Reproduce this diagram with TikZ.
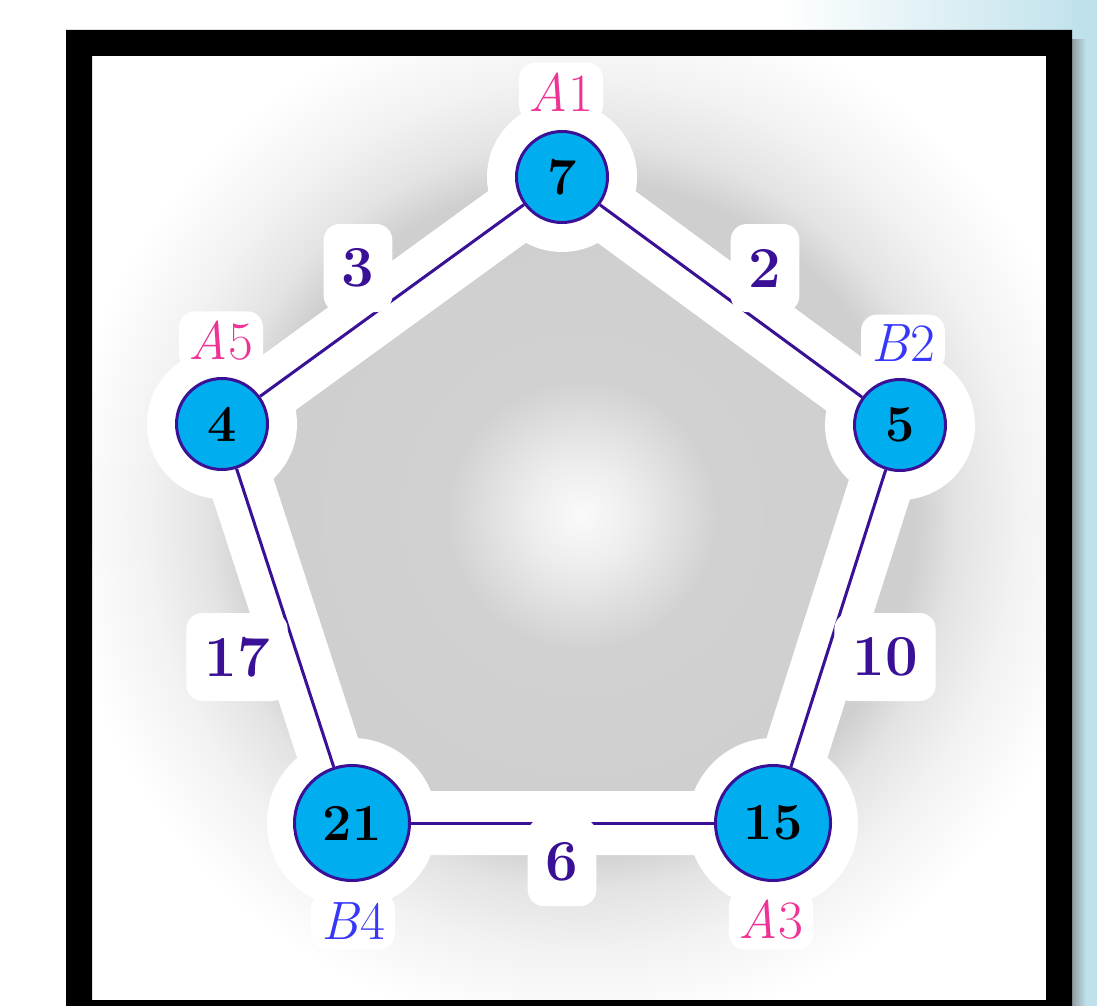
\documentclass[tikz,border=0pt]{standalone}
\usepackage{fontspec}
\usetikzlibrary{backgrounds}

\definecolor{edgeblue}{RGB}{58,16,150}
\definecolor{nodecyan}{RGB}{0,174,239}
\definecolor{apink}{RGB}{238,50,150}
\definecolor{bblue}{RGB}{55,55,250}
\definecolor{skyblue}{RGB}{190,225,235}
\pgfdeclareradialshading{grayglow}{\pgfpoint{0bp}{0bp}}{color(0bp)=(gray!4); color(2.5bp)=(gray!14); color(6.5bp)=(gray!36); color(16bp)=(gray!38); color(18bp)=(gray!22); color(21bp)=(gray!10); color(25bp)=(white); color(50bp)=(white)}

\begin{document}
\begin{tikzpicture}[x=0.5pt, y=-0.5pt,
    vertex/.style={circle, draw=edgeblue, line width=1.5pt, fill=nodecyan, inner sep=0pt, minimum size=45.5pt, font=\fontsize{26}{30}\selectfont\bfseries},
    bigvertex/.style={vertex, minimum size=57.5pt},
    weight/.style={fill=white, rounded corners=8pt, text=edgeblue, inner sep=9pt, minimum height=44pt, font=\fontsize{29}{32}\selectfont\bfseries},
    tagA/.style={fill=white, rounded corners=8pt, text=apink, inner sep=5pt, font=\fontsize{27}{30}\selectfont\itshape},
    tagB/.style={tagA, text=bblue},
    link/.style={draw=edgeblue, line width=1.5pt},
    halo/.style={white, line width=32pt, line join=round}]
    \useasboundingbox (0,0) rectangle (1097,1006);

    \node[vertex] (a1) at (562,177) {7};
    \node[vertex] (b2) at (900,425) {5};
    \node[bigvertex] (a3) at (773,823) {15};
    \node[bigvertex] (b4) at (352,823) {21};
    \node[vertex] (a5) at (222,424) {4};

    \draw[link] (a1) -- (b2);
    \draw[link] (b2) -- (a3);
    \draw[link] (a3) -- (b4);
    \draw[link] (b4) -- (a5);
    \draw[link] (a5) -- (a1);

    \node[weight] (w2) at (765,268) {2};
    \node[weight] (w10) at (885,657) {10};
    \node[weight] (w6) at (562,862) {6};
    \node[weight] (w17) at (237,657) {17};
    \node[weight] (w3) at (358,268) {3};

    \node[tagA] (t1) at (561,92) {A\textup{1}};
    \node[tagB] (t2) at (903,343) {B\textup{2}};
    \node[tagA] (t3) at (771,920) {A\textup{3}};
    \node[tagB] (t4) at (353,921) {B\textup{4}};
    \node[tagA] (t5) at (221,341) {A\textup{5}};

    % frame round the drawing
    \fill[black, even odd rule] (66,30) rectangle (1072,1006) (92,56) rectangle (1046,1000);

    \begin{scope}[on background layer]
        \fill[white] (0,0) rectangle (1097,1006);
        \shade[left color=white, right color=skyblue] (780,0) rectangle (1097,30);
        \fill[skyblue] (1072,0) rectangle (1097,1006);
        \shade[left color=gray!70!skyblue, right color=skyblue] (1072,40) rectangle (1086,1006);
        \begin{scope}
            \clip (92,56) rectangle (1046,1000);
            \shade[shading=grayglow] (582,515) circle (520);
        \end{scope}
        \draw[halo] (a1.center) -- (b2.center) -- (a3.center) -- (b4.center) -- (a5.center) -- cycle;
        \fill[white] (a1) circle (75) (b2) circle (75) (a5) circle (75);
        \fill[white] (a3) circle (85) (b4) circle (85);
    \end{scope}
\end{tikzpicture}
\end{document}
